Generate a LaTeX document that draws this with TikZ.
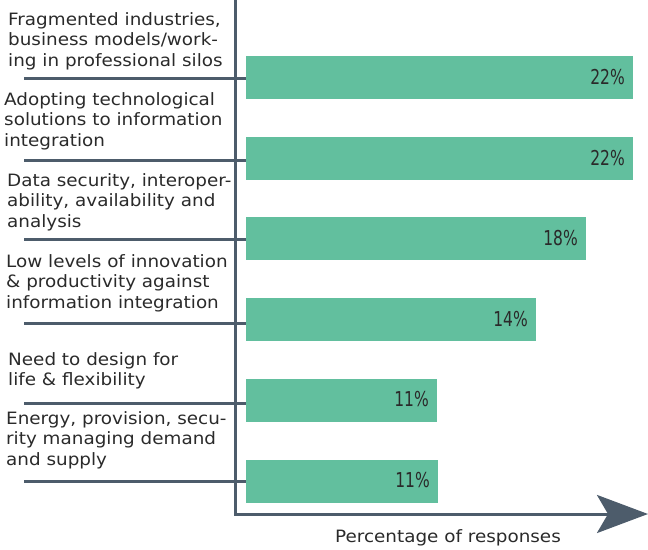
\documentclass[tikz,border=0pt]{standalone}
\usepackage{fontspec}
\setmainfont[FakeStretch=1.08]{DejaVu Sans}
\newfontfamily\condfont[FakeStretch=0.84]{DejaVu Sans Condensed}
\usetikzlibrary{arrows.meta}
\definecolor{barcol}{HTML}{62BF9E}
\definecolor{axiscol}{HTML}{4D5C6B}
\definecolor{txtcol}{HTML}{2A2A2A}
\tikzset{
  axisline/.style={draw=axiscol, line width=3pt},
  sepline/.style={draw=axiscol, line width=3pt},
  barbox/.style={fill=barcol, draw=none, anchor=west, minimum height=43pt, inner sep=0pt, outer sep=0pt},
  pct/.style={anchor=base east, text=txtcol, inner sep=0pt, font=\condfont\fontsize{20.5}{22}\selectfont},
  lab/.style={anchor=north west, align=left, inner sep=0pt, text=txtcol, font=\fontsize{17}{20.7}\selectfont},
}
\begin{document}
\begin{tikzpicture}[x=1pt,y=-1pt]
\useasboundingbox (0,0) rectangle (648,549);
\coordinate (top) at (235,0);
\coordinate (origin) at (235,514);
\coordinate (xend) at (648,514);
\draw[axisline, -{Stealth[length=51pt,width=38pt,inset=11pt]}] (top) -- (origin) -- (xend);

\node[barbox, minimum width=387pt] (bar1) at (246,77.5) {};
\node[barbox, minimum width=387pt] (bar2) at (246,158.5) {};
\node[barbox, minimum width=340pt] (bar3) at (246,238.5) {};
\node[barbox, minimum width=290pt] (bar4) at (246,319.5) {};
\node[barbox, minimum width=191pt] (bar5) at (246,400) {};
\node[barbox, minimum width=192pt] (bar6) at (246,481) {};

\node[pct] (p1) at ([xshift=-8pt,yshift=-7pt]bar1.east) {22\%};
\node[pct] (p2) at ([xshift=-8pt,yshift=-7pt]bar2.east) {22\%};
\node[pct] (p3) at ([xshift=-8pt,yshift=-6.5pt]bar3.east) {18\%};
\node[pct] (p4) at ([xshift=-8pt,yshift=-6.5pt]bar4.east) {14\%};
\node[pct] (p5) at ([xshift=-8pt,yshift=-6pt]bar5.east) {11\%};
\node[pct] (p6) at ([xshift=-8pt,yshift=-6pt]bar6.east) {11\%};

\coordinate (s1) at (24,78);
\coordinate (s2) at (24,160);
\coordinate (s3) at (24,239);
\coordinate (s4) at (24,323);
\coordinate (s5) at (24,403);
\coordinate (s6) at (24,481);
\draw[sepline] (s1) -- (s1 -| bar1.west);
\draw[sepline] (s2) -- (s2 -| bar2.west);
\draw[sepline] (s3) -- (s3 -| bar3.west);
\draw[sepline] (s4) -- (s4 -| bar4.west);
\draw[sepline] (s5) -- (s5 -| bar5.west);
\draw[sepline] (s6) -- (s6 -| bar6.west);

\node[lab] (l1) at (8,12) {Fragmented industries,\\business models/work-\\ing in professional silos};
\node[lab] (l2) at (4,92) {Adopting technological\\solutions to information\\integration};
\node[lab] (l3) at (7,173) {Data security, interoper-\\ability, availability and\\analysis};
\node[lab] (l4) at (6,254) {Low levels of innovation\\\& productivity against\\information integration};
\node[lab] (l5) at (8,352) {Need to design for\\life \& flexibility};
\node[lab] (l6) at (6,411) {Energy, provision, secu-\\rity managing demand\\and supply};

\node[anchor=base, inner sep=0pt, text=txtcol, font=\fontsize{17}{20}\selectfont] (xlab) at (448,542) {Percentage of responses};
\end{tikzpicture}
\end{document}
